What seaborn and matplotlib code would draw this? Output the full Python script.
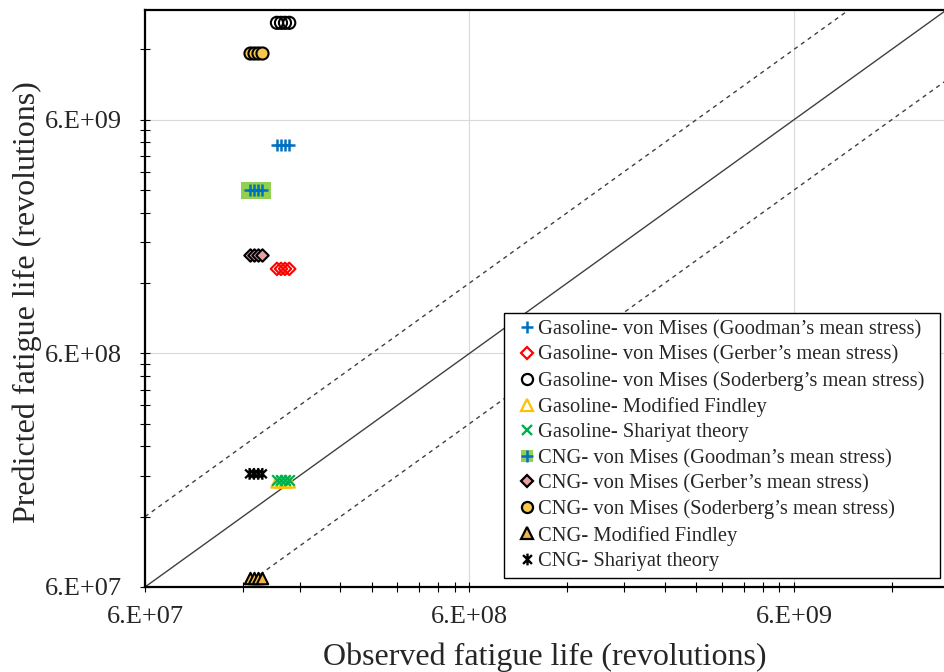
import numpy as np
import pandas as pd
import matplotlib
matplotlib.use("Agg")
import matplotlib.pyplot as plt
from matplotlib.path import Path
from matplotlib.lines import Line2D
from matplotlib.patches import Rectangle
from matplotlib.ticker import FixedLocator, FixedFormatter, NullFormatter
import seaborn as sns

# Observed fatigue lives (revolutions), one value per test
observed_gasoline = [1.53e8, 1.575e8, 1.62e8, 1.67e8]
observed_cng = [1.26e8, 1.30e8, 1.34e8, 1.38e8]

# Predicted fatigue lives (revolutions) per criterion
pred_gas_goodman = [4.66e9, 4.66e9, 4.66e9, 4.66e9]
pred_gas_gerber = [1.38e9, 1.38e9, 1.38e9, 1.38e9]
pred_gas_soderberg = [1.56e10, 1.56e10, 1.56e10, 1.56e10]
pred_gas_findley = [1.69e8, 1.69e8, 1.69e8, 1.69e8]
pred_gas_shariyat = [1.72e8, 1.72e8, 1.72e8, 1.72e8]
pred_cng_goodman = [2.99e9, 2.99e9, 2.99e9, 2.99e9]
pred_cng_gerber = [1.58e9, 1.58e9, 1.58e9, 1.58e9]
pred_cng_soderberg = [1.16e10, 1.16e10, 1.16e10, 1.16e10]
pred_cng_findley = [6.56e7, 6.56e7, 6.56e7, 6.56e7]
pred_cng_shariyat = [1.83e8, 1.83e8, 1.83e8, 1.83e8]

series_labels = [
    "Gasoline- von Mises (Goodman\u2019s mean stress)",
    "Gasoline- von Mises (Gerber\u2019s mean stress)",
    "Gasoline- von Mises (Soderberg\u2019s mean stress)",
    "Gasoline- Modified Findley",
    "Gasoline- Shariyat theory",
    "CNG- von Mises (Goodman\u2019s mean stress)",
    "CNG- von Mises (Gerber\u2019s mean stress)",
    "CNG- von Mises (Soderberg\u2019s mean stress)",
    "CNG- Modified Findley",
    "CNG- Shariyat theory",
]

tick_values = [6e7, 6e8, 6e9]
tick_labels = ["6.E+07", "6.E+08", "6.E+09"]
axis_min, x_max, y_max = 6e7, 1.74e10, 1.77e10
band_factor = 2.0

# Excel-style asterisk: vertical stroke plus an X
asterisk = Path(
    [(0, -1), (0, 1), (-0.75, -0.75), (0.75, 0.75), (-0.75, 0.75), (0.75, -0.75)],
    [Path.MOVETO, Path.LINETO, Path.MOVETO, Path.LINETO, Path.MOVETO, Path.LINETO],
)

BLUE, RED, ORANGE, GREEN = "#0070C0", "#FF0000", "#FFC000", "#00B050"
LIME, PINK, GOLD, GOLD2 = "#92D050", "#E8A0A0", "#F5C84C", "#EDB648"

styles = [
    dict(marker="+", s=85, color=BLUE, linewidths=1.8),
    dict(marker="D", s=40, facecolors="none", edgecolors=RED, linewidths=1.5),
    dict(marker="o", s=76, facecolors="none", edgecolors="black", linewidths=1.5),
    dict(marker="^", s=68, facecolors="none", edgecolors=ORANGE, linewidths=1.5),
    dict(marker="x", s=58, color=GREEN, linewidths=1.6),
    None,  # square + plus, drawn separately
    dict(marker="D", s=40, facecolors=PINK, edgecolors="black", linewidths=1.5),
    dict(marker="o", s=76, facecolors=GOLD, edgecolors="black", linewidths=1.5),
    dict(marker="^", s=68, facecolors=GOLD2, edgecolors="black", linewidths=1.5),
    dict(marker=asterisk, s=72, facecolors="none", edgecolors="black", linewidths=1.6),
]

preds = [pred_gas_goodman, pred_gas_gerber, pred_gas_soderberg, pred_gas_findley,
         pred_gas_shariyat, pred_cng_goodman, pred_cng_gerber, pred_cng_soderberg,
         pred_cng_findley, pred_cng_shariyat]
obs = [observed_gasoline] * 5 + [observed_cng] * 5

sns.set_theme(style="white")
plt.rcParams["font.family"] = ["Liberation Serif", "DejaVu Serif"]

W, H = 944, 672
fig = plt.figure(figsize=(W / 100, H / 100), dpi=100)
ax = fig.add_axes([145 / W, 1 - 587 / H, 1 - 145 / W, (587 - 10) / H])

# 1:1 line with factor-of-two bands
ref = pd.DataFrame({"x": [axis_min, x_max * 4]})
ref["one"] = ref["x"]
ref["upper"] = ref["x"] * band_factor
ref["lower"] = ref["x"] / band_factor
sns.lineplot(data=ref, x="x", y="one", ax=ax, color="#404040", lw=1.0, zorder=1)
for col in ("upper", "lower"):
    sns.lineplot(data=ref, x="x", y=col, ax=ax, color="#404040", lw=1.0,
                 zorder=1).lines[-1].set_dashes((3, 3))

for xv, yv, st in zip(obs, preds, styles):
    df = pd.DataFrame({"obs": xv, "pred": yv})
    if st is None:
        sns.scatterplot(data=df, x="obs", y="pred", ax=ax, marker="s", s=140,
                        color=LIME, edgecolor="none", linewidth=0, zorder=3)
        sns.scatterplot(data=df, x="obs", y="pred", ax=ax, marker="+", s=85,
                        color=BLUE, edgecolor=None, linewidths=1.8, zorder=3)
    else:
        st = dict(st)
        if "color" in st:
            st["edgecolor"] = None
        sns.scatterplot(data=df, x="obs", y="pred", ax=ax, zorder=3, **st)

ax.set_xscale("log")
ax.set_yscale("log")
ax.set_xlim(axis_min, x_max)
ax.set_ylim(axis_min, y_max)

minor = [k * d for d in tick_values for k in range(2, 10)]
for axis in (ax.xaxis, ax.yaxis):
    axis.set_major_locator(FixedLocator(tick_values))
    axis.set_major_formatter(FixedFormatter(tick_labels))
    axis.set_minor_locator(FixedLocator(minor))
    axis.set_minor_formatter(NullFormatter())

ax.tick_params(which="both", direction="inout", length=7.5, width=0.8,
               color="black", bottom=True, left=True, top=False, right=False)
ax.tick_params(axis="x", which="major", labelsize=19, pad=10)
ax.tick_params(axis="y", which="major", labelsize=19, pad=13)
ax.grid(True, which="major", color="#d9d9d9", lw=0.8)
ax.set_axisbelow(True)

for side in ("left", "bottom", "top"):
    ax.spines[side].set_visible(True)
    ax.spines[side].set_color("black")
    ax.spines[side].set_linewidth(1.6)
ax.spines["right"].set_visible(False)

ax.set_xlabel("Observed fatigue life (revolutions)", fontsize=23)
ax.set_ylabel("Predicted fatigue life (revolutions)", fontsize=23)
ax.xaxis.set_label_coords(0.5, -0.096)
ax.yaxis.set_label_coords(-0.129, 0.494)

# Legend entries
def proxy(marker, ms, mfc, mec, mew):
    return Line2D([], [], ls="none", marker=marker, markersize=ms,
                  markerfacecolor=mfc, markeredgecolor=mec, markeredgewidth=mew)

handles = [
    proxy("+", 8.5, BLUE, BLUE, 1.8),
    proxy("D", 6, "none", RED, 1.6),
    proxy("o", 8, "none", "black", 1.6),
    proxy("^", 8, "none", ORANGE, 1.6),
    proxy("x", 7.5, GREEN, GREEN, 1.7),
    (proxy("s", 9, LIME, "none", 0), proxy("+", 8.5, BLUE, BLUE, 1.8)),
    proxy("D", 6, PINK, "black", 1.6),
    proxy("o", 8, GOLD, "black", 1.6),
    proxy("^", 8, GOLD2, "black", 1.6),
    proxy(asterisk, 8.5, "none", "black", 1.7),
]
fs = 14.8
fs_px = fs * 100 / 72
leg = ax.legend(handles, series_labels, loc="upper left",
                bbox_to_anchor=(522 / W, 1 - 320 / H),
                bbox_transform=fig.transFigure, borderaxespad=0,
                fontsize=fs, frameon=False,
                handlelength=10 / fs_px, handletextpad=6 / fs_px,
                labelspacing=0.3, borderpad=0)
leg.set_zorder(6)

# Legend box, drawn beneath the legend entries
ax.add_patch(Rectangle((504 / W, 1 - 578 / H), (940 - 504) / W, (578 - 313) / H,
                       transform=fig.transFigure, facecolor="white",
                       edgecolor="black", lw=1.0, zorder=5, clip_on=False))

fig.savefig("out.png", dpi=100)
